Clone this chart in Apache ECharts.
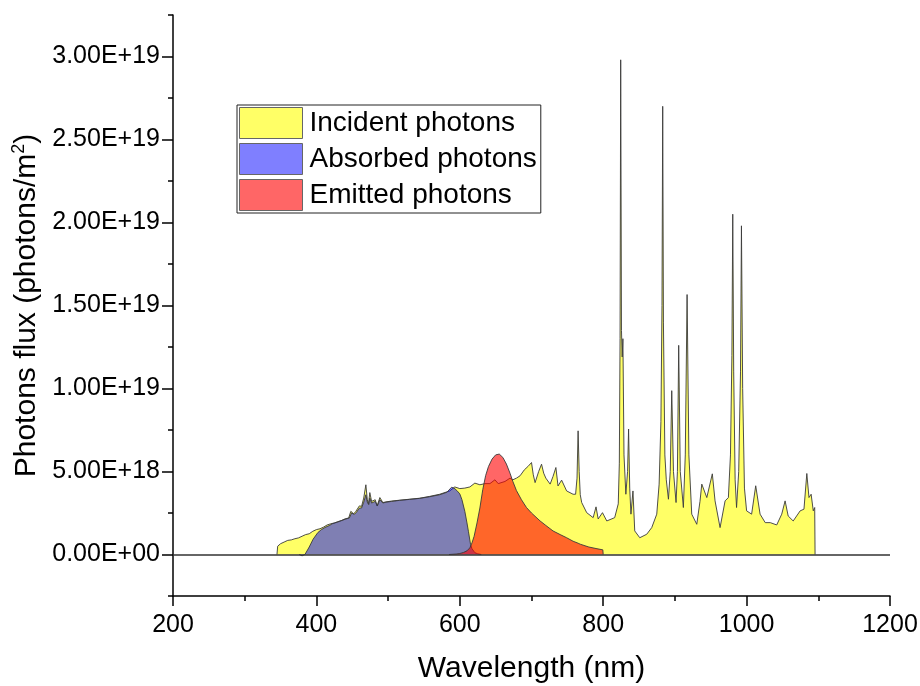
<!DOCTYPE html>
<html>
<head>
<meta charset="utf-8">
<script src="https://cdn.jsdelivr.net/npm/echarts@6/dist/echarts.min.js"></script>
<style>
  html, body { margin: 0; padding: 0; background: #fff; }
  #chart { width: 920px; height: 686px; }
</style>
</head>
<body>
<div id="chart"></div>
<script>
// Flux values are in units of 1E18 photons/m2
const incidentNm = [345,346,350,355,360,365,370,375,380,385,390,395,400,405,410,415,420,425,430,435,440,445,448,452,455,460,463,466,469,471,472.7,474.5,477,479,482,484.7,488.5,492.7,497,505,516,530,544,558,572,586,593,600,607,614,621,628,635,642,649,653.6,663,670,674,679,684,690,695,700,702.5,705,710,714,717,720,726,730,734,737,742,749,758,761.5,763.5,765,766.5,768,770,777,786,790,793,799,805,816,821,822.5,823.5,824.4,825.5,826.5,827.5,829,831.6,834,835.4,837,838.7,841.5,844,851,860.7,867.7,874.7,878,880.5,882,883,884,886,888,891,893.5,895.6,898,901.6,903.5,905.3,907.5,911.8,914.5,917,919.5,923.5,930.5,935,937.5,940,944.5,952.2,956,963,970,974.6,977.5,979.5,980.7,982,984,986,989,991.5,992.8,994.5,997,1000,1007,1012.7,1018.8,1026,1033,1042,1049,1053.7,1058,1065,1074.7,1080,1084,1087,1090,1093,1095,1095.5];
const incidentFlux = [0,0.5,0.65,0.75,0.85,0.88,0.95,1.0,1.1,1.2,1.25,1.4,1.5,1.55,1.65,1.78,1.85,1.9,1.98,2.05,2.15,2.2,2.6,2.45,2.6,2.93,2.9,3.4,4.2,3.3,3.05,3.73,3.2,3.13,3.3,2.93,3.43,3.13,3.17,3.22,3.27,3.33,3.39,3.5,3.63,3.83,4.07,3.97,4.0,4.07,4.3,4.2,4.27,4.27,4.5,4.27,4.4,4.6,4.5,4.6,4.74,5.1,5.3,5.54,4.8,4.33,5.0,5.44,4.9,4.6,4.24,4.7,5.24,4.13,4.48,3.83,3.63,3.63,4.6,7.45,5.0,3.6,3.13,2.52,2.22,2.87,2.14,2.52,2.02,2.22,3.05,5.5,13.0,29.8,13.5,11.9,13.0,6.0,3.63,5.0,7.56,4.0,2.43,3.83,1.42,1.01,1.22,1.62,2.43,4.24,8.0,15.0,27.0,14.0,6.0,4.5,3.33,5.0,9.87,5.0,3.13,5.0,12.6,5.0,2.83,6.0,15.66,6.0,2.43,1.82,3.2,4.24,4.24,3.43,4.86,3.23,1.62,3.23,3.43,6.0,12.0,20.5,11.0,4.5,2.83,5.0,11.0,19.8,10.0,4.0,2.63,2.43,4.14,2.43,1.92,1.92,1.78,2.43,3.23,2.32,2.02,2.63,2.73,4.88,3.43,3.63,2.63,2.83,0];

const absorbedNm = [376,380,384,386,390,395.4,402,407,411.7,418.7,422,430,440,446,449,453,456,460,463,466,469,471,473,474.5,477,479,482,485,488.5,492.7,497,505,516,530,544,558,572,582,588.5,592,596,600,603,607,610,612,615,617,621,625,630];
const absorbedFlux = [0,-0.08,0,0.1,0.45,0.92,1.32,1.5,1.62,1.76,1.85,1.96,2.12,2.2,2.5,2.42,2.55,2.8,2.8,3.15,3.6,3.15,3.0,3.4,3.1,3.05,3.2,2.92,3.3,3.1,3.15,3.2,3.26,3.32,3.38,3.48,3.6,3.75,4.05,4.0,3.85,3.65,3.3,2.6,1.9,1.4,0.6,0.35,0.11,0.04,0];

const emittedNm = [585,595,600,605,610,614,617,620,624,628,632,636,640,645,650,655,660,665,670,674,679,686,693,700,712,720,730,740,749,758,765,768,780,790,799.5,800];
const emittedFlux = [0,0.03,0.06,0.12,0.22,0.4,0.7,1.1,1.9,2.8,3.9,4.75,5.3,5.75,6.0,6.05,5.85,5.45,4.9,4.4,3.85,3.3,2.83,2.5,2.02,1.75,1.42,1.2,1.01,0.8,0.68,0.62,0.45,0.36,0.28,0];

const seriesNames = ['Incident photons', 'Absorbed photons', 'Emitted photons'];
const seriesColors = ['rgba(255,255,0,0.6)', 'rgba(0,0,255,0.5)', 'rgba(255,0,0,0.6)'];

const xTicks = [200, 400, 600, 800, 1000, 1200];
const yMajorTicks = [0, 5, 10, 15, 20, 25, 30];
const yMinorTicks = [-2.5, 2.5, 7.5, 12.5, 17.5, 22.5, 27.5, 32.5];
const FLUX_UNIT = 1e18;

function sci(v) {
  const x = v * FLUX_UNIT;
  if (x === 0) return '0.00E+00';
  const e = Math.floor(Math.log10(Math.abs(x)) + 1e-9);
  const m = x / Math.pow(10, e);
  return m.toFixed(2) + 'E' + (e >= 0 ? '+' : '-') + String(Math.abs(e)).padStart(2, '0');
}

function pairs(xs, ys) { return xs.map((x, i) => [x, ys[i]]); }

const font = 'Liberation Sans, Arial, sans-serif';
const chart = echarts.init(document.getElementById('chart'), null, { renderer: 'canvas' });

const lineStyle = { color: '#3a3a3a', width: 0.9 };

chart.setOption({
  animation: false,
  textStyle: { fontFamily: font },
  grid: { left: 173, top: 15, width: 717, height: 581, containLabel: false, outerBoundsMode: 'none' },
  legend: {
    orient: 'vertical',
    left: 237, top: 105,
    itemWidth: 63, itemHeight: 31, itemGap: 4,
    padding: [2, 4, 2, 2],
    borderColor: '#222', borderWidth: 1,
    icon: 'rect',
    textStyle: { fontSize: 28, color: '#000', fontFamily: font, padding: [0, 0, 0, 2] },
    data: seriesNames.map((n, i) => ({ name: n, itemStyle: { color: seriesColors[i], borderColor: '#666', borderWidth: 1 } }))
  },
  xAxis: {
    type: 'value', min: xTicks[0], max: xTicks[xTicks.length - 1], interval: 200,
    name: 'Wavelength (nm)', nameLocation: 'middle', nameGap: 58,
    nameTextStyle: { fontSize: 30, color: '#000', fontFamily: font },
    axisLine: { onZero: false, lineStyle: { color: '#000', width: 1.5 } },
    axisTick: { length: 10, lineStyle: { color: '#000', width: 1.5 } },
    minorTick: { show: true, splitNumber: 2, length: 5, lineStyle: { color: '#000', width: 1.5 } },
    axisLabel: { fontSize: 25, color: '#000', margin: 17, fontFamily: font, formatter: v => String(v) },
    splitLine: { show: false }
  },
  yAxis: [{
    type: 'value', min: -2.5, max: 32.5,
    name: 'Photons flux (photons/m{sup|2})', nameLocation: 'middle', nameGap: 129,
    nameTextStyle: { fontSize: 30, color: '#000', fontFamily: font,
      rich: { sup: { fontSize: 18, verticalAlign: 'top', padding: [0, 0, 14, 0], fontFamily: font, color: '#000' } } },
    axisLine: { lineStyle: { color: '#000', width: 1.5 } },
    axisTick: { length: 11, customValues: yMajorTicks, lineStyle: { color: '#000', width: 1.5 } },
    axisLabel: { customValues: yMajorTicks, formatter: sci, fontSize: 25, color: '#000', margin: 13, fontFamily: font },
    splitLine: { show: false }
  }, {
    type: 'value', min: -2.5, max: 32.5, position: 'left',
    axisLine: { show: false },
    axisTick: { length: 5, customValues: yMinorTicks, lineStyle: { color: '#000', width: 1.5 } },
    axisLabel: { show: false },
    splitLine: { show: false }
  }],
  series: [
    {
      name: seriesNames[0], type: 'line', yAxisIndex: 0, color: seriesColors[0],
      data: pairs(incidentNm, incidentFlux), showSymbol: false, symbol: 'none',
      lineStyle: lineStyle, areaStyle: { color: seriesColors[0], opacity: 1, origin: 0 },
      markLine: { silent: true, symbol: 'none', label: { show: false },
        lineStyle: { color: '#333', width: 1.5, type: 'solid' }, data: [{ yAxis: 0 }] },
      z: 2
    },
    {
      name: seriesNames[1], type: 'line', yAxisIndex: 0, color: seriesColors[1],
      data: pairs(absorbedNm, absorbedFlux), showSymbol: false, symbol: 'none',
      lineStyle: lineStyle, areaStyle: { color: seriesColors[1], opacity: 1, origin: 0 },
      z: 3
    },
    {
      name: seriesNames[2], type: 'line', yAxisIndex: 0, color: seriesColors[2],
      data: pairs(emittedNm, emittedFlux), showSymbol: false, symbol: 'none',
      lineStyle: lineStyle, areaStyle: { color: seriesColors[2], opacity: 1, origin: 0 },
      z: 4
    }
  ]
});
</script>
</body>
</html>
